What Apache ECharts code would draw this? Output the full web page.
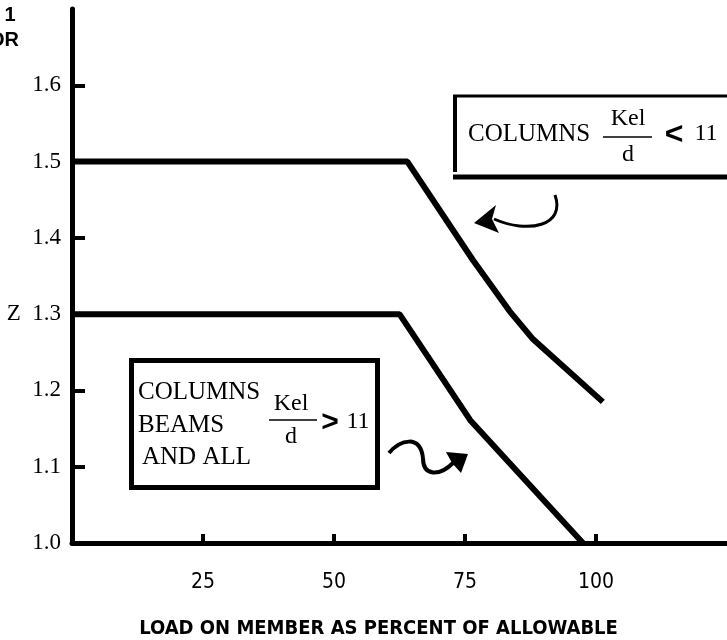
<!DOCTYPE html>
<html>
<head>
<meta charset="utf-8">
<script src="https://cdn.jsdelivr.net/npm/echarts@6/dist/echarts.min.js"></script>
<style>
  html, body { margin: 0; padding: 0; background: #fff; }
  #chart { width: 727px; height: 640px; }
</style>
</head>
<body>
<div id="chart"></div>
<script>
// values
const xTicks = [25, 50, 75, 100];
const yTicks = [1.0, 1.1, 1.2, 1.3, 1.4, 1.5, 1.6];
const upperCurve = [[0, 1.5], [64, 1.5], [76.5, 1.371], [83.5, 1.304], [88, 1.267], [101.3, 1.185]];
const lowerCurve = [[0, 1.3], [62.5, 1.3], [76, 1.161], [97.5, 1.0]];

const serif = '"Liberation Serif", "DejaVu Serif", serif';
const narrow = '"DejaVu Sans", sans-serif';

let chart = echarts.init(document.getElementById('chart'));

let option = {
  backgroundColor: '#fff',
  animation: false,
  grid: { left: 72, right: 0, top: 9, bottom: 97, outerBoundsMode: 'none', containLabel: false },
  xAxis: {
    type: 'value',
    min: 0,
    max: 125,
    interval: 25,
    name: 'LOAD ON MEMBER AS PERCENT OF ALLOWABLE',
    nameLocation: 'middle',
    nameGap: 76,
    nameTextStyle: { color: '#000', fontFamily: narrow, fontStyle: 'condensed', fontWeight: 'bold', fontSize: 20, padding: [0, 42, 0, 0] },
    axisLine: { lineStyle: { color: '#000', width: 5 } },
    axisTick: { inside: true, length: 9, customValues: xTicks, lineStyle: { color: '#000', width: 4 } },
    axisLabel: { customValues: xTicks, color: '#000', fontFamily: narrow, fontStyle: 'condensed', fontSize: 21, margin: 29 },
    splitLine: { show: false }
  },
  yAxis: {
    type: 'value',
    min: 1.0,
    max: 1.7,
    interval: 0.1,
    axisLine: { show: true, lineStyle: { color: '#000', width: 5 } },
    axisTick: { show: true, inside: true, length: 13, customValues: [1.1, 1.2, 1.4, 1.6], lineStyle: { color: '#000', width: 4 } },
    axisLabel: {
      customValues: yTicks,
      color: '#000',
      fontFamily: serif,
      fontSize: 23,
      margin: 11,
      formatter: (v) => {
        let s = v.toFixed(1);
        return Math.abs(v - 1.3) < 1e-6 ? 'Z  ' + s : s;
      }
    },
    splitLine: { show: false }
  },
  series: [
    {
      type: 'line',
      data: upperCurve,
      symbol: 'none',
      lineStyle: { color: '#000', width: 6 }
    },
    {
      type: 'line',
      data: lowerCurve,
      symbol: 'none',
      lineStyle: { color: '#000', width: 6 }
    }
  ],
  graphic: [
    // axis title remnants top left
    { type: 'text', x: 10, y: 15, style: { text: '1', font: 'bold 20px "Liberation Sans", sans-serif', fill: '#000', align: 'center', verticalAlign: 'middle' } },
    { type: 'text', x: 19, y: 40, style: { text: 'OR', font: 'bold 20px "Liberation Sans", sans-serif', fill: '#000', align: 'right', verticalAlign: 'middle' } },

    // upper box (runs off the right edge)
    { type: 'line', shape: { x1: 455, y1: 95, x2: 455, y2: 172 }, style: { stroke: '#000', lineWidth: 4 } },
    { type: 'line', shape: { x1: 453, y1: 96, x2: 727, y2: 96 }, style: { stroke: '#000', lineWidth: 3 } },
    { type: 'line', shape: { x1: 453, y1: 177, x2: 727, y2: 177 }, style: { stroke: '#000', lineWidth: 5 } },
    { type: 'text', x: 468, y: 134, style: { text: 'COLUMNS', font: '25px ' + serif, fill: '#000', align: 'left', verticalAlign: 'middle' } },
    { type: 'text', x: 628, y: 119, style: { text: 'Kel', font: '24px ' + serif, fill: '#000', align: 'center', verticalAlign: 'middle' } },
    { type: 'line', shape: { x1: 603, y1: 137, x2: 652, y2: 137 }, style: { stroke: '#000', lineWidth: 1.5 } },
    { type: 'text', x: 628, y: 155, style: { text: 'd', font: '24px ' + serif, fill: '#000', align: 'center', verticalAlign: 'middle' } },
    { type: 'text', x: 674, y: 135, style: { text: '<', font: 'bold 32px "Liberation Sans", sans-serif', fill: '#000', align: 'center', verticalAlign: 'middle' } },
    { type: 'text', x: 706, y: 134, style: { text: '11', font: '24px ' + serif, fill: '#000', align: 'center', verticalAlign: 'middle' } },

    // arrow pointing at upper curve
    { type: 'bezierCurve', shape: { x1: 555, y1: 195, cpx1: 566, cpy1: 226, cpx2: 528, cpy2: 234, x2: 494, y2: 219 }, style: { stroke: '#000', lineWidth: 3, fill: null } },
    { type: 'polygon', shape: { points: [[474, 223], [496, 205], [492, 219], [499, 233]] }, style: { fill: '#000' } },

    // lower box
    { type: 'rect', shape: { x: 131.5, y: 360.5, width: 246, height: 127 }, style: { stroke: '#000', lineWidth: 5, fill: '#fff' } },
    { type: 'text', x: 138, y: 392, style: { text: 'COLUMNS', font: '25px ' + serif, fill: '#000', align: 'left', verticalAlign: 'middle' } },
    { type: 'text', x: 138, y: 425, style: { text: 'BEAMS', font: '25px ' + serif, fill: '#000', align: 'left', verticalAlign: 'middle' } },
    { type: 'text', x: 142, y: 457, style: { text: 'AND ALL', font: '25px ' + serif, fill: '#000', align: 'left', verticalAlign: 'middle' } },
    { type: 'text', x: 291, y: 404, style: { text: 'Kel', font: '24px ' + serif, fill: '#000', align: 'center', verticalAlign: 'middle' } },
    { type: 'line', shape: { x1: 269, y1: 420, x2: 317, y2: 420 }, style: { stroke: '#000', lineWidth: 1.5 } },
    { type: 'text', x: 291, y: 437, style: { text: 'd', font: '24px ' + serif, fill: '#000', align: 'center', verticalAlign: 'middle' } },
    { type: 'text', x: 330, y: 423, style: { text: '>', font: 'bold 30px "Liberation Sans", sans-serif', fill: '#000', align: 'center', verticalAlign: 'middle' } },
    { type: 'text', x: 358, y: 422, style: { text: '11', font: '24px ' + serif, fill: '#000', align: 'center', verticalAlign: 'middle' } },

    // squiggly arrow pointing at lower curve
    { type: 'bezierCurve', shape: { x1: 389, y1: 453, cpx1: 400, cpy1: 440, cpx2: 420, cpy2: 434, x2: 423, y2: 458 }, style: { stroke: '#000', lineWidth: 4, fill: null } },
    { type: 'bezierCurve', shape: { x1: 423, y1: 458, cpx1: 423, cpy1: 477, cpx2: 440, cpy2: 476, x2: 453, y2: 463 }, style: { stroke: '#000', lineWidth: 4, fill: null } },
    { type: 'polygon', shape: { points: [[468, 454], [446, 452], [452, 463], [461, 473]] }, style: { fill: '#000' } }
  ]
};

chart.setOption(option);
</script>
</body>
</html>
